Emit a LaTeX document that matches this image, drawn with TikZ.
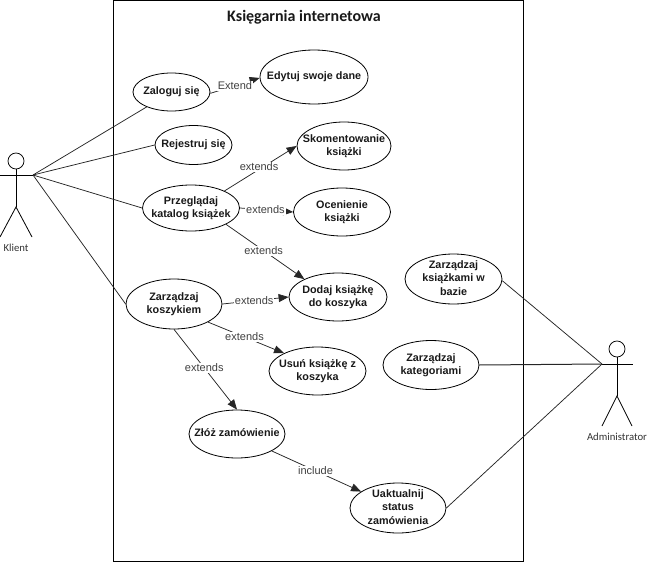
\documentclass[tikz,border=0pt]{standalone}
\usepackage{fontspec}
\setmainfont{Liberation Sans}
\newfontfamily\carlito{Carlito}
\usetikzlibrary{shapes.geometric,arrows.meta}
\tikzset{
  usecase/.style={ellipse,draw=black,line width=0.8pt,inner sep=0pt,font=\fontsize{10.8}{13.3}\selectfont\bfseries,text=black!90},
  lnk/.style={draw=black!85,line width=0.75pt},
  ext/.style={lnk,-{Triangle[length=10pt,width=8pt]}},
  lbl/.style={fill=white,inner sep=1pt,font=\fontsize{11}{12}\selectfont,text=black!75},
  actorlbl/.style={font=\carlito\fontsize{10.7}{12}\selectfont,text=black!80,inner sep=0pt},
  head/.style={circle,draw=black,line width=0.75pt,minimum size=16pt,inner sep=0pt},
  stick/.style={draw=black,line width=0.8pt}
}
\newcommand{\uctext}[1]{\smash{\makebox[0pt]{\raisebox{-3pt}{\setlength{\tabcolsep}{0pt}\renewcommand{\arraystretch}{1}\begin{tabular}{c}#1\end{tabular}}}}}
\newcommand{\uc}[6]{\node[usecase,minimum width=#4pt,minimum height=#5pt] (#1) at (#2,#3) {\uctext{#6}};}
\begin{document}
\begin{tikzpicture}[x=1pt,y=-1pt]
\useasboundingbox (0,0) rectangle (648,562);
\node[draw=black,line width=1pt,minimum width=410pt,minimum height=561pt,inner sep=0pt] (frame) at (318,280.5) {};
\node[font=\carlito\fontsize{16}{20}\selectfont\bfseries,text=black!90,inner sep=0pt] (title) at (304,17) {Księgarnia internetowa};

\uc{zal}{171.5}{92}{77}{38}{Zaloguj się}
\uc{edy}{314}{77}{108}{54}{Edytuj swoje dane}
\uc{rej}{193.5}{145}{77}{39}{Rejestruj się}
\uc{sko}{344}{146}{94}{48}{Skomentowanie\\książki}
\uc{prz}{191}{208}{97}{46}{Przeglądaj\\katalog książek}
\uc{oce}{342}{212}{97}{48}{Ocenienie\\książki}
\uc{dod}{338}{297}{98}{48}{Dodaj książkę\\do koszyka}
\uc{kos}{174}{304}{96}{50}{Zarządzaj\\koszykiem}
\uc{usu}{317.5}{371}{97}{48}{Usuń książkę z\\koszyka}
\uc{zlo}{237}{434}{96}{48}{Złóż zamówienie}
\uc{uak}{398}{508}{96}{50}{Uaktualnij\\status\\zamówienia}
\uc{bks}{453.5}{279}{97}{50}{Zarządzaj\\książkami w\\bazie}
\uc{kat}{431}{365}{96}{49}{Zarządzaj\\kategoriami}

% Klient
\node[head] (khead) at (16,161) {};
\coordinate (kl) at (0,175);
\coordinate (kr) at (33,175);
\coordinate (kb) at (16,207);
\coordinate (kll) at (0,237);
\coordinate (klr) at (32,237);
\draw[stick] (kl) -- (kr);
\draw[stick] (khead) -- (kb);
\draw[stick] (kll) -- (kb) -- (klr);
\node[actorlbl] (klient) at (16,248) {Klient};

% Administrator
\node[head] (ahead) at (617,349) {};
\coordinate (al) at (602,364);
\coordinate (ar) at (633,364);
\coordinate (ab) at (617,396);
\coordinate (all) at (602,426);
\coordinate (alr) at (632,426);
\draw[stick] (al) -- (ar);
\draw[stick] (ahead) -- (ab);
\draw[stick] (all) -- (ab) -- (alr);
\node[actorlbl] (admin) at (617,437) {Administrator};

% actor links
\draw[lnk] (kr) -- (zal.211);
\draw[lnk] (kr) -- (rej.180);
\draw[lnk] (kr) -- (prz.180);
\draw[lnk] (kr) -- (kos.180);
\draw[lnk] (al) -- (bks.-2);
\draw[lnk,line width=1pt] (al) -- (kat.0);
\draw[lnk] (al) -- (uak.0);

% extends
\draw[ext] (zal.-2) -- node[lbl,pos=0.5] {Extend} (edy.181);
\draw[ext] (prz.27) -- node[lbl,pos=0.48,yshift=2.5pt] {extends} (sko.180);
\draw[ext] (prz.0) -- node[lbl,pos=0.48] {extends} (oce.180);
\draw[ext] (prz.-25) -- node[lbl,pos=0.48] {extends} (dod.152);
\draw[ext] (kos.0) -- node[lbl,pos=0.48] {extends} (dod.180);
\draw[ext] (kos.-28) -- node[lbl,pos=0.48] {extends} (usu.152);
\draw[ext] (kos.-90) -- node[lbl,pos=0.48] {extends} (zlo.90);
\draw[ext] (zlo.-26) -- node[lbl,pos=0.49] {include} (uak.156);
\end{tikzpicture}
\end{document}
